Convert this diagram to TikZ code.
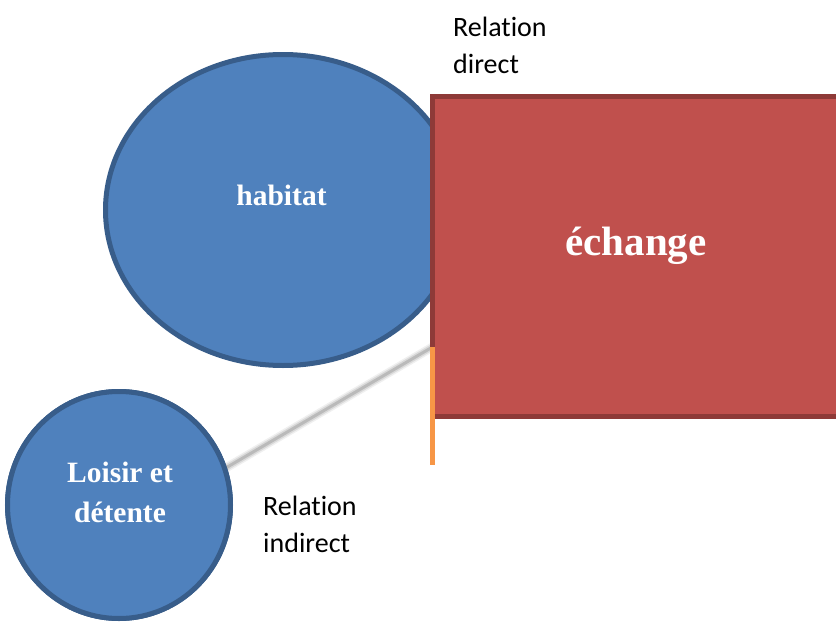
\documentclass[tikz,border=0pt]{standalone}
\usepackage{fontspec}
\setmainfont{Liberation Serif}
\newfontfamily\calibrifont[Ligatures=NoCommon]{Carlito}
\usetikzlibrary{shapes.geometric,positioning}
\definecolor{blobblue}{RGB}{79,129,189}
\definecolor{blobedge}{RGB}{56,93,138}
\definecolor{boxred}{RGB}{192,80,77}
\definecolor{boxedge}{RGB}{142,58,56}
\definecolor{linkorange}{RGB}{247,150,70}

\begin{document}
\begin{tikzpicture}[
    x=1pt, y=-1pt,
    blob/.style={ellipse, draw=blobedge, fill=blobblue, line width=5pt, inner sep=0pt, outer sep=0pt},
    blobtext/.style={text=white, font=\bfseries\fontsize{29.5}{40}\selectfont, align=center, anchor=base},
    bigbox/.style={rectangle, draw=boxedge, fill=boxred, line width=5pt, inner sep=0pt, outer sep=0pt, anchor=north west},
    reltext/.style={font=\calibrifont\fontsize{28}{37}\selectfont, align=left, anchor=base west, inner sep=0pt},
    shadowline/.style={gray, line cap=round}
]
    \useasboundingbox (0,0) rectangle (836,624);
    \clip (0,0) rectangle (836,624);

    % habitat
    \node[blob, minimum width=355pt, minimum height=311pt] (habitat) at (283,210) {};
    \node[blobtext] (habitatlbl) at (281.5,205) {habitat};

    % indirect link (soft shadow)
    \node[blob, minimum width=223pt, minimum height=227pt] (loisir) at (119,505) {};
    \coordinate (orangetop) at (432.5,347);
    \coordinate (orangebot) at (432.5,465);
    \draw[shadowline, line width=9pt, opacity=0.12] (loisir.19) -- (orangetop);
    \draw[shadowline, line width=6pt, opacity=0.2] (loisir.19) -- (orangetop);
    \draw[shadowline, line width=3pt, opacity=0.35] (loisir.19) -- (orangetop);

    % echange
    \node[bigbox, minimum width=500pt, minimum height=320pt] (echange) at (432.5,96.5) {};
    \node[blobtext, font=\bfseries\fontsize{41}{48}\selectfont] (echangelbl) at (636,255) {échange};
    \draw[linkorange, line width=5pt] (orangetop) -- (orangebot);

    % Loisir et detente
    \node[blob, minimum width=223pt, minimum height=227pt] at (loisir.center) {};
    \node[blobtext] (loisirlbl) at (120,522) {Loisir et\\détente};

    % relations
    \node[reltext] (reldirect) at (453,73) {Relation\\direct};
    \node[reltext] (relindirect) at (263,552) {Relation\\indirect};
\end{tikzpicture}
\end{document}
